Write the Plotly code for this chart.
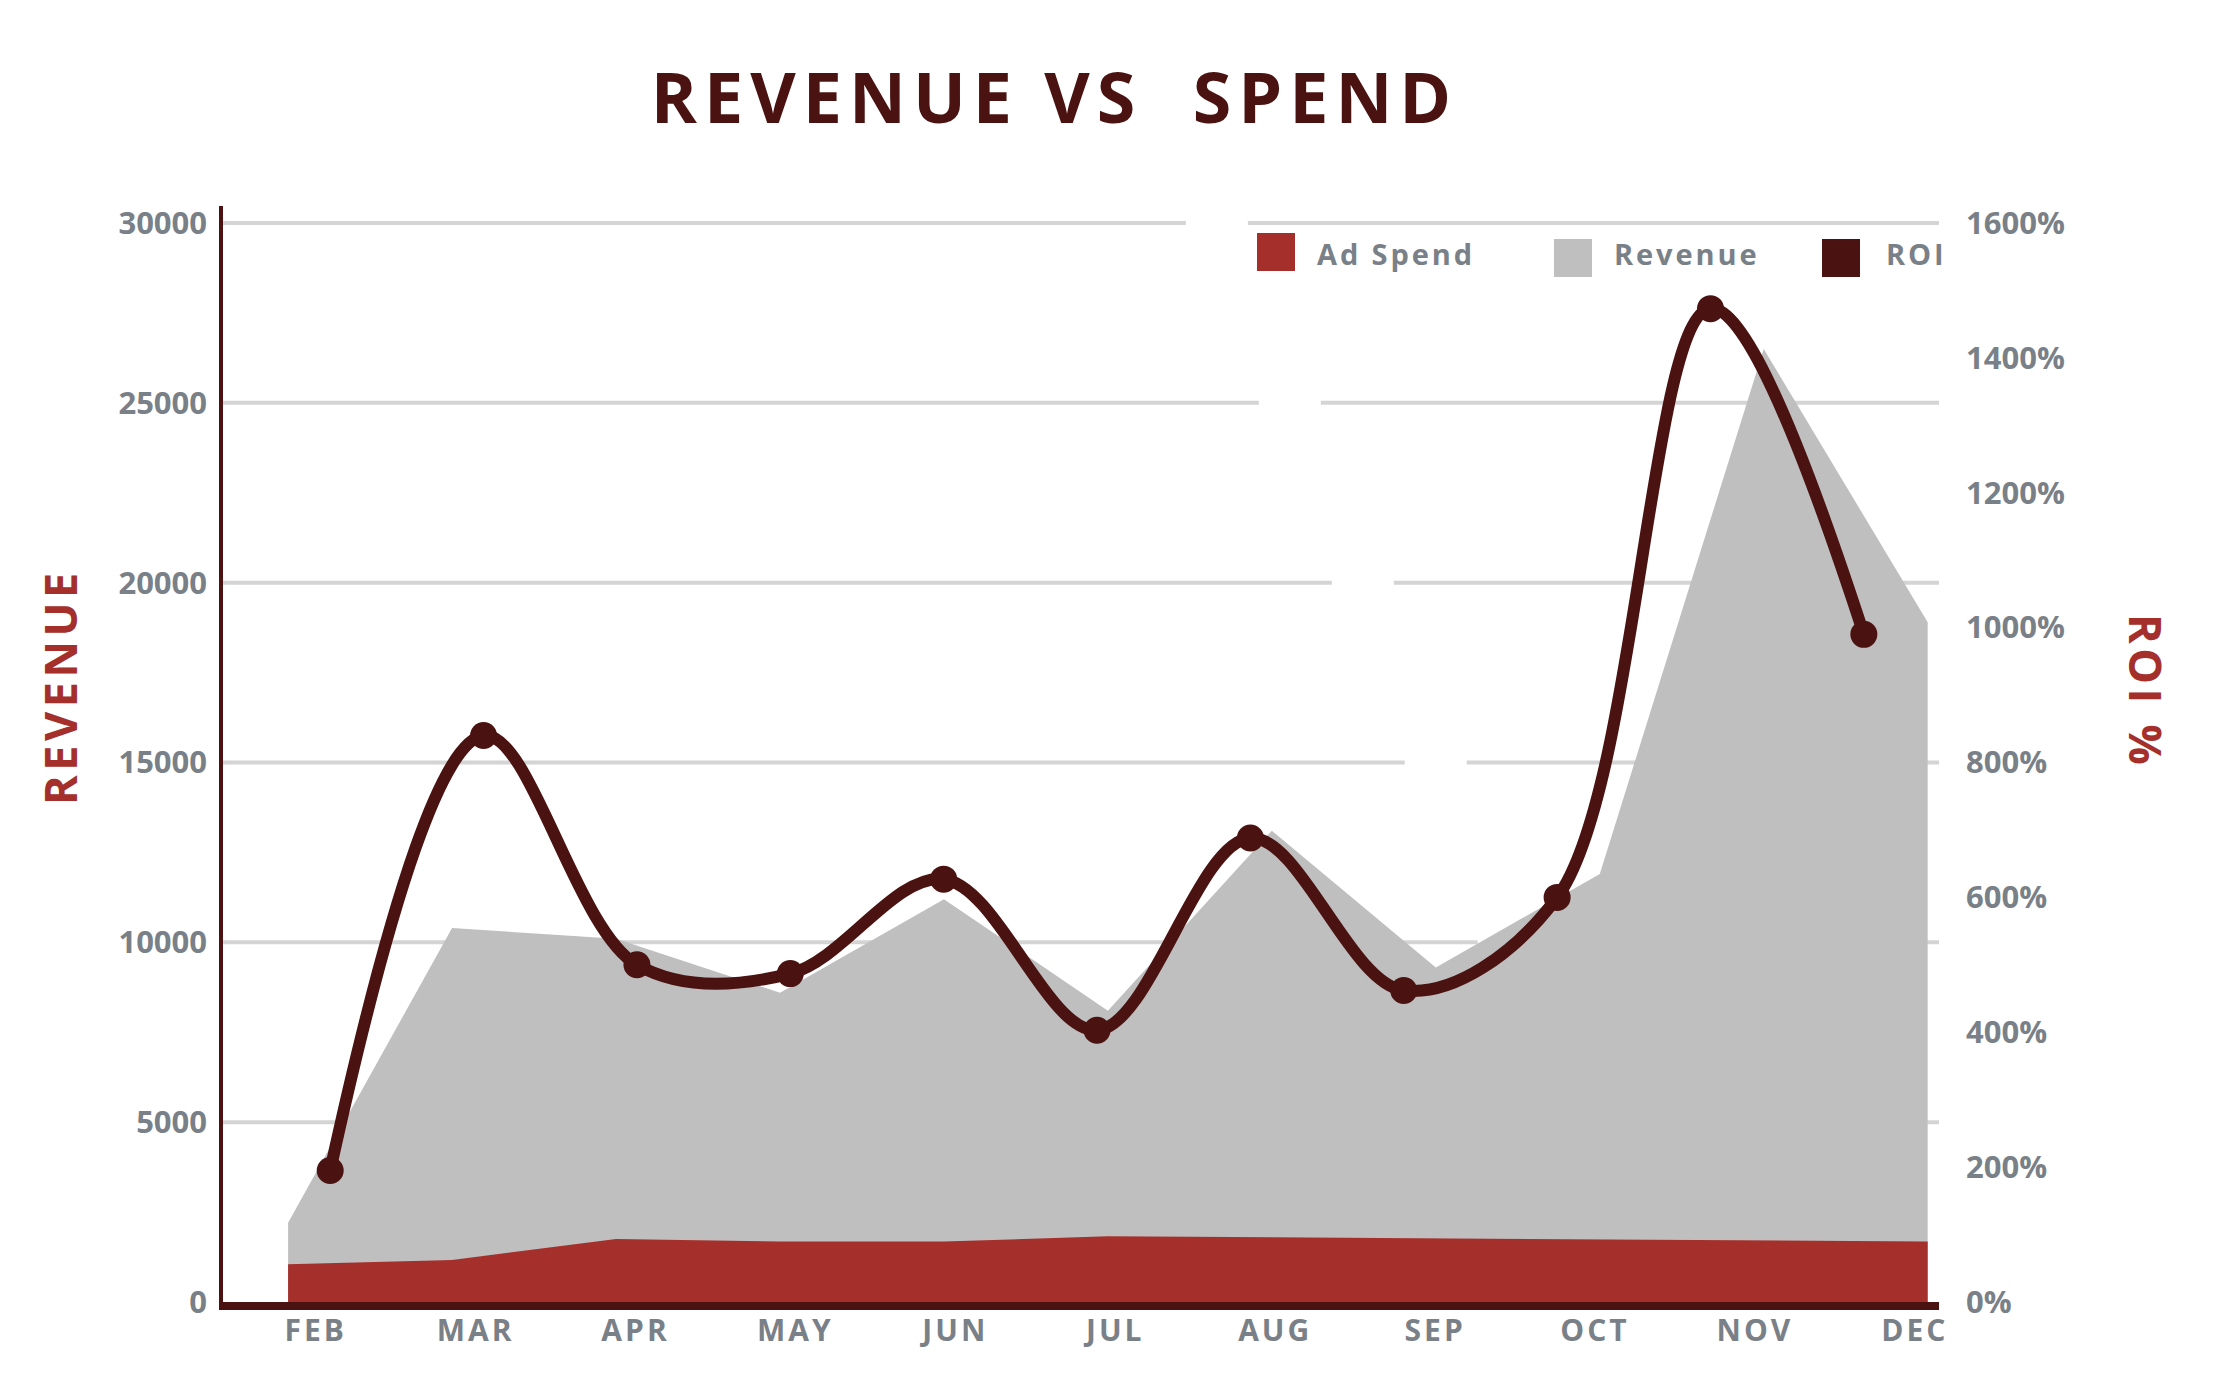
import plotly.graph_objects as go

# data
months = ["FEB", "MAR", "APR", "MAY", "JUN", "JUL", "AUG", "SEP", "OCT", "NOV", "DEC"]
revenue = [2200, 10400, 10100, 8600, 11200, 8100, 13100, 9300, 11900, 26500, 18900]
ad_spend = [1050, 1170, 1750, 1680, 1680, 1830, 1800, 1770, 1740, 1710, 1680]
roi = [195, 840, 500, 487, 627, 403, 688, 462, 600, 1473, 990]
rev_ticks = [0, 5000, 10000, 15000, 20000, 25000, 30000]
roi_ticks = [0, 200, 400, 600, 800, 1000, 1200, 1400, 1600]
idx = list(range(len(months)))

RED = "#a52f2b"
MAROON = "#4a1210"
GREY_AREA = "#bfbfbf"
GRID = "#d4d4d4"
TXT = "#7a8087"
FONT = "Open Sans"
HAIR = "\u200a"


def spaced(s):
    # fake letter spacing
    return HAIR.join(s)


W, H = 2223, 1378
L, R, T, B = 215, 292, 198, 84
pw, ph = W - L - R, H - T - B
Y30K = 215  # pixel row of the 30000 line


# pixel -> paper helpers (paper is the plot area here)
def px(x):
    return (x - L) / pw


def py(y):
    return (H - B - y) / ph


y_top = 30000 * (H - B - T) / (H - B - Y30K)

fig = go.Figure()

fig.add_trace(go.Scatter(
    x=idx, y=revenue, name="Revenue", mode="lines",
    line=dict(width=0, color=GREY_AREA), fill="tozeroy", fillcolor=GREY_AREA,
    hoverinfo="skip", showlegend=False))
fig.add_trace(go.Scatter(
    x=idx, y=ad_spend, name="Ad Spend", mode="lines",
    line=dict(width=0, color=RED), fill="tozeroy", fillcolor=RED,
    hoverinfo="skip", showlegend=False))
# carries the month labels
fig.add_trace(go.Scatter(
    x=idx, y=[None] * len(idx), xaxis="x3", yaxis="y",
    mode="lines", hoverinfo="skip", showlegend=False))
fig.add_trace(go.Scatter(
    x=idx, y=roi, name="ROI", xaxis="x2", yaxis="y2",
    mode="lines+markers", line=dict(shape="spline", smoothing=1.0, width=12, color=MAROON),
    marker=dict(size=27, color=MAROON), hoverinfo="skip", showlegend=False))

tick_font = dict(family=FONT, size=31, color=TXT, weight="bold")

fig.update_layout(
    width=W, height=H,
    margin=dict(l=L, r=R, t=T, b=B),
    paper_bgcolor="white", plot_bgcolor="rgba(0,0,0,0)",
    showlegend=False,
    title=dict(text=spaced("REVENUE VS  SPEND"), xref="container", x=1043 / W, xanchor="center",
               yref="container", y=1 - 90 / H, yanchor="middle",
               font=dict(family=FONT, size=70, color=MAROON, weight="bold")),
    xaxis=dict(range=[-0.397, 10.069], showgrid=False, zeroline=False,
               showticklabels=False, showline=True, linecolor=MAROON, linewidth=8),
    xaxis2=dict(overlaying="x", anchor="y2", range=[-0.699, 10.49], visible=False),
    xaxis3=dict(overlaying="x", anchor="y", range=[-0.57, 10.16], side="bottom",
                tickvals=idx, ticktext=[spaced(m) for m in months], showgrid=False,
                zeroline=False, showline=False, ticks="",
                tickfont=dict(family=FONT, size=30, color=TXT, weight="bold"),
                ticklabelstandoff=8),
    yaxis=dict(range=[0, y_top], tickvals=rev_ticks, ticktext=[str(v) for v in rev_ticks],
               showgrid=False, zeroline=False, showline=True,
               linecolor=MAROON, linewidth=3.5, ticks="", tickfont=tick_font,
               ticklabelstandoff=6),
    yaxis2=dict(overlaying="y", anchor="x2", side="right", range=[0, 1600 * y_top / 30000],
                tickvals=roi_ticks, ticktext=[f"{v}%" for v in roi_ticks],
                showgrid=False, zeroline=False, showline=False, ticks="", tickfont=tick_font,
                ticklabelstandoff=26),
)


# gridlines drawn by hand so they can carry the white diagonal gap of the original
def gap_left(y):
    return 1171 + (1472 - 1171) * (y - 198) / (940 - 198)


for v in rev_ticks[1:]:
    yy = H - B - v * (H - B - Y30K) / 30000
    gl = gap_left(yy)
    for x0, x1 in ((0, px(gl)), (px(gl + 62), 1)):
        fig.add_shape(type="line", xref="paper", yref="y", x0=x0, x1=x1, y0=v, y1=v,
                      line=dict(color=GRID, width=4), layer="below")

# axis titles
fig.add_annotation(text=spaced("REVENUE"), xref="paper", yref="paper", x=px(51), y=py(681),
                   xanchor="center", yanchor="middle", textangle=-90, showarrow=False,
                   font=dict(family=FONT, size=45, color=RED, weight="bold"))
fig.add_annotation(text=spaced("ROI %"), xref="paper", yref="paper", x=px(2139), y=py(681),
                   xanchor="center", yanchor="middle", textangle=90, showarrow=False,
                   font=dict(family=FONT, size=45, color=RED, weight="bold"))

# legend
legend_items = [("Ad Spend", RED, 1249, 225, 1307), ("Revenue", GREY_AREA, 1546, 231, 1604),
                ("ROI", MAROON, 1814, 231, 1876)]
for label, col, lx, ly, tx in legend_items:
    fig.add_shape(type="rect", xref="paper", yref="paper",
                  x0=px(lx), x1=px(lx + 38), y0=py(ly), y1=py(ly + 38),
                  fillcolor=col, line=dict(width=0), layer="above")
    fig.add_annotation(text=spaced(label), xref="paper", yref="paper", x=px(tx), y=py(246),
                       xanchor="left", yanchor="middle", showarrow=False,
                       font=dict(family=FONT, size=29, color=TXT, weight="bold"))

fig.write_html("out.html")
